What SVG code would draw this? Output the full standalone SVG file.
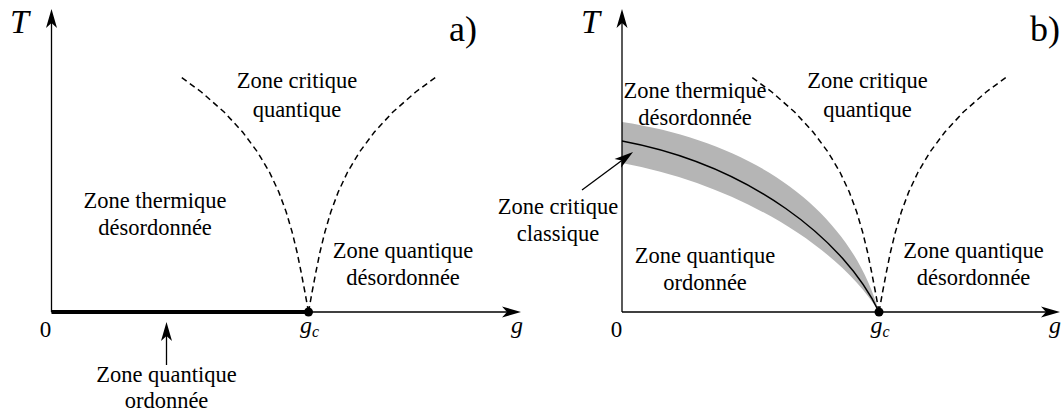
<svg xmlns="http://www.w3.org/2000/svg" width="1062" height="414" viewBox="0 0 1062 414">
<style>
.lbl{font-family:"Liberation Serif","Times New Roman",serif;font-size:22.5px;fill:#000;text-anchor:middle}
.math{font-family:"Liberation Serif","Times New Roman",serif;font-style:italic;fill:#000}
.num{font-family:"Liberation Serif","Times New Roman",serif;fill:#000}
.axis{stroke:#000;stroke-width:1.3;fill:none}
.dash{stroke:#000;stroke-width:1.5;fill:none;stroke-dasharray:6 4}
</style>
<defs>
<marker id="ah" viewBox="-20 -6 21 12" markerWidth="21" markerHeight="12" refX="-14" refY="0" orient="auto" markerUnits="userSpaceOnUse">
<path d="M0,0 L-19,-5.5 L-14,0 L-19,5.5 Z" fill="#000"/>
</marker>
<path id="crit" d="M308.5,312 L304.9,292 L301.1,272 L297,252 L292.1,232 L286.2,212 L278.8,192 L269.4,172 L257.5,152 L242.6,132 L224.1,112 L201.3,92 L181,77 M308.5,312 L312.1,292 L315.9,272 L320,252 L324.9,232 L330.8,212 L338.2,192 L347.6,172 L359.5,152 L374.4,132 L392.9,112 L415.7,92 L436,77"/>
</defs>

<g id="band">
<path d="M622,122 C755,142 850,210 879,312 C840,248 740,185 622,163 Z" fill="#b5b5b5"/>
<path d="M622,141 C750,165 845,240 879,312" fill="none" stroke="#000" stroke-width="1.5"/>
</g>

<g id="connectors">
<use href="#crit" class="dash"/>
<use href="#crit" class="dash" transform="translate(570.5 0)"/>
<line class="axis" x1="51.5" y1="312" x2="51.5" y2="23" marker-end="url(#ah)"/>
<line class="axis" x1="51.5" y1="312" x2="507" y2="312" marker-end="url(#ah)"/>
<line x1="51.5" y1="312" x2="308.5" y2="312" stroke="#000" stroke-width="4"/>
<line class="axis" x1="166.5" y1="365" x2="166.5" y2="336" marker-end="url(#ah)"/>
<line class="axis" x1="622" y1="312" x2="622" y2="23" marker-end="url(#ah)"/>
<line class="axis" x1="622" y1="312" x2="1046" y2="312" marker-end="url(#ah)"/>
<line class="axis" x1="582" y1="190" x2="621.8" y2="160.4" marker-end="url(#ah)"/>
</g>

<g id="gc-points">
<circle cx="308.5" cy="312" r="4.5" fill="#000"/>
<circle cx="879" cy="312" r="4.5" fill="#000"/>
</g>

<g id="axis-labels">
<text class="math" x="10" y="33" font-size="34">T</text>
<text class="math" x="581" y="33" font-size="34">T</text>
<text class="num" x="449" y="41" font-size="36">a)</text>
<text class="num" x="1030" y="41" font-size="36">b)</text>
<text class="num" x="45.5" y="337" font-size="23" text-anchor="middle">0</text>
<text class="num" x="616.5" y="337" font-size="23" text-anchor="middle">0</text>
<text class="math" x="300" y="333" font-size="24">g<tspan font-size="16" dy="4">c</tspan></text>
<text class="math" x="870.5" y="333" font-size="24">g<tspan font-size="16" dy="4">c</tspan></text>
<text class="math" x="511" y="333" font-size="24">g</text>
<text class="math" x="1049" y="333" font-size="24">g</text>
</g>

<g id="zone-a-critique">
<text class="lbl" x="297" y="88">Zone critique</text>
<text class="lbl" x="297" y="116.5">quantique</text>
</g>
<g id="zone-a-thermique">
<text class="lbl" x="155" y="208">Zone thermique</text>
<text class="lbl" x="155" y="235">désordonnée</text>
</g>
<g id="zone-a-qdes">
<text class="lbl" x="403" y="258">Zone quantique</text>
<text class="lbl" x="403" y="285">désordonnée</text>
</g>
<g id="zone-a-qord">
<text class="lbl" x="166.5" y="382">Zone quantique</text>
<text class="lbl" x="166.5" y="408">ordonnée</text>
</g>

<g id="zone-b-critique">
<text class="lbl" x="867.5" y="88">Zone critique</text>
<text class="lbl" x="867.5" y="116.5">quantique</text>
</g>
<g id="zone-b-thermique">
<text class="lbl" x="695" y="98">Zone thermique</text>
<text class="lbl" x="695" y="125">désordonnée</text>
</g>
<g id="zone-b-classique">
<text class="lbl" x="558" y="214">Zone critique</text>
<text class="lbl" x="558" y="241">classique</text>
</g>
<g id="zone-b-qord">
<text class="lbl" x="705" y="263">Zone quantique</text>
<text class="lbl" x="705" y="290">ordonnée</text>
</g>
<g id="zone-b-qdes">
<text class="lbl" x="973.5" y="258">Zone quantique</text>
<text class="lbl" x="973.5" y="285">désordonnée</text>
</g>
</svg>
